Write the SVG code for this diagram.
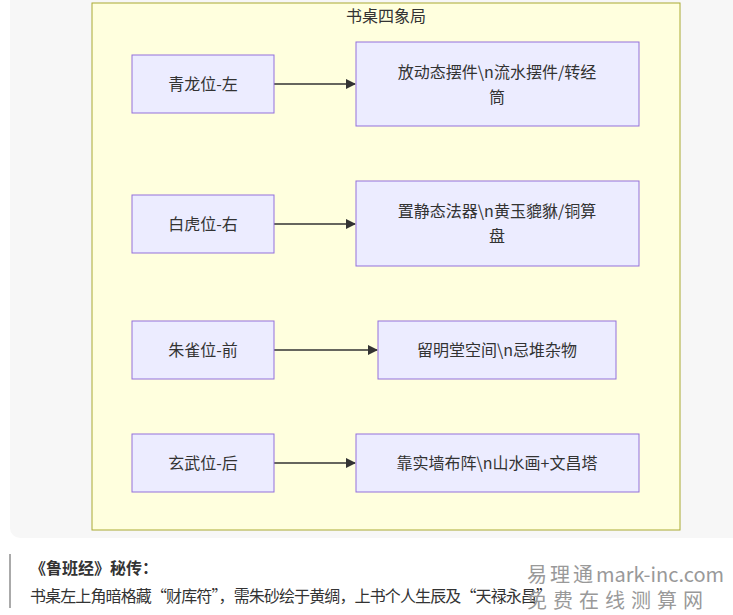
<svg xmlns="http://www.w3.org/2000/svg" width="733" height="615" viewBox="0 0 733 615">
<style>
text{font-family:"Noto Sans CJK SC","Liberation Sans",sans-serif;fill:#333;font-size:16px}
.n rect{fill:#ECECFF;stroke:#9370DB;stroke-width:1}
.c{stroke:#333;stroke-width:1.3;fill:none;marker-end:url(#a)}
.wm{fill:#999;font-size:20px}
</style>
<defs><marker id="a" viewBox="0 0 10 10" refX="9" refY="5" markerWidth="8" markerHeight="8" orient="auto"><path d="M0,0L10,5L0,10z" fill="#333"/></marker></defs>
<rect x="10" y="-10" width="740" height="548" rx="10" fill="#f7f7f7"/>
<g id="cluster"><rect x="92" y="3" width="588" height="527" fill="#FFFFDE" stroke="#AAAA33"/>
<text x="386" y="22" text-anchor="middle">书桌四象局</text></g>
<g id="connectors">
<path class="c" d="M274,84H355"/><path class="c" d="M274,224H355"/><path class="c" d="M274,350H377"/><path class="c" d="M274,463H355"/>
</g>
<g id="n1" class="n"><rect x="132" y="55" width="142" height="58"/><text x="203" y="90" text-anchor="middle">青龙位-左</text></g>
<g id="n2" class="n"><rect x="356" y="42" width="283" height="84"/><text x="497" y="78" text-anchor="middle">放动态摆件\n流水摆件/转经</text><text x="497" y="103" text-anchor="middle">筒</text></g>
<g id="n3" class="n"><rect x="132" y="195" width="142" height="58"/><text x="203" y="230" text-anchor="middle">白虎位-右</text></g>
<g id="n4" class="n"><rect x="356" y="181" width="283" height="85"/><text x="497" y="217" text-anchor="middle">置静态法器\n黄玉貔貅/铜算</text><text x="497" y="242" text-anchor="middle">盘</text></g>
<g id="n5" class="n"><rect x="132" y="321" width="142" height="58"/><text x="203" y="356" text-anchor="middle">朱雀位-前</text></g>
<g id="n6" class="n"><rect x="378" y="321" width="238" height="58"/><text x="497" y="356" text-anchor="middle">留明堂空间\n忌堆杂物</text></g>
<g id="n7" class="n"><rect x="132" y="434" width="142" height="58"/><text x="203" y="469" text-anchor="middle">玄武位-后</text></g>
<g id="n8" class="n"><rect x="356" y="434" width="283" height="58"/><text x="497" y="469" text-anchor="middle">靠实墙布阵\n山水画+文昌塔</text></g>
<rect x="9" y="554" width="2" height="54" fill="#aaa"/>
<text x="30" y="574" font-weight="bold" font-size="15">《鲁班经》秘传：</text>
<text x="30" y="602" font-size="15" textLength="522">书桌左上角暗格藏“财库符”，需朱砂绘于黄绸，上书个人生辰及“天禄永昌”</text>
<text class="wm" x="527" y="582" letter-spacing="3">易理通</text><text class="wm" x="596" y="582">mark-inc.com</text>
<text class="wm" x="527" y="608" letter-spacing="6">免费在线测算网</text>
</svg>
